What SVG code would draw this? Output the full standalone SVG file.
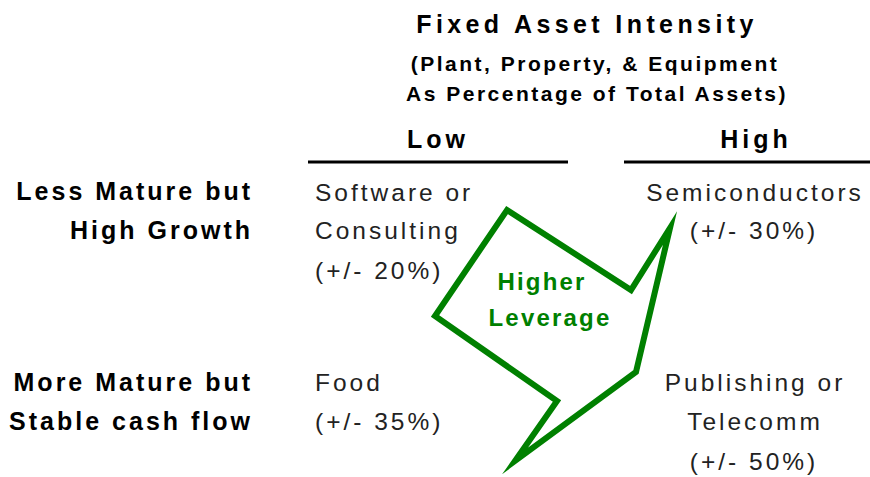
<svg xmlns="http://www.w3.org/2000/svg" width="870" height="477" viewBox="0 0 870 477">
<style>
.b{font-family:"Liberation Sans",Arial,sans-serif;font-weight:bold;fill:#000;font-size:25px;letter-spacing:3px}
.sub{font-family:"Liberation Sans",Arial,sans-serif;font-weight:bold;fill:#000;font-size:21px;letter-spacing:2.5px}
.r{font-family:"Liberation Sans",Arial,sans-serif;fill:#222;font-size:24.5px;letter-spacing:3px}
.g{font-family:"Liberation Sans",Arial,sans-serif;font-weight:bold;fill:#008000;font-size:24px;letter-spacing:2.2px}
.m{text-anchor:middle}
.e{text-anchor:end}
</style>
<rect width="870" height="477" fill="#fff"/>
<g id="header">
<text class="b m" x="587" y="33" style="letter-spacing:4.4px">Fixed Asset Intensity</text>
<text class="sub m" x="595" y="71">(Plant, Property, &amp; Equipment</text>
<text class="sub m" x="597" y="101">As Percentage of Total Assets)</text>
</g>
<g id="col-low">
<text class="b m" x="438" y="148" style="letter-spacing:4px">Low</text>
<line x1="308" y1="162" x2="568" y2="162" stroke="#000" stroke-width="3"/>
</g>
<g id="col-high">
<text class="b m" x="756" y="148" style="letter-spacing:4px">High</text>
<line x1="624" y1="162" x2="870" y2="162" stroke="#000" stroke-width="3"/>
</g>
<g id="row-growth">
<text class="b e" x="253" y="200">Less Mature but</text>
<text class="b e" x="253" y="239">High Growth</text>
</g>
<g id="row-stable">
<text class="b e" x="253" y="391">More Mature but</text>
<text class="b e" x="253" y="430">Stable cash flow</text>
</g>
<g id="software">
<text class="r" x="315" y="201">Software or</text>
<text class="r" x="315" y="239">Consulting</text>
<text class="r" x="315" y="279">(+/- 20%)</text>
</g>
<g id="semiconductors">
<text class="r m" x="755" y="201">Semiconductors</text>
<text class="r m" x="754" y="239">(+/- 30%)</text>
</g>
<g id="food">
<text class="r" x="315" y="391">Food</text>
<text class="r" x="315" y="430">(+/- 35%)</text>
</g>
<g id="publishing">
<text class="r m" x="755" y="391">Publishing or</text>
<text class="r m" x="755" y="430">Telecomm</text>
<text class="r m" x="754" y="470">(+/- 50%)</text>
</g>
<g id="connectors">
<polygon points="507,210 631,290 670,228 636,372 515,461 557,401 435,316" fill="none" stroke="#008000" stroke-width="6" stroke-linejoin="miter" stroke-miterlimit="10"/>
</g>
<g id="leverage">
<text class="g m" x="542" y="290">Higher</text>
<text class="g m" x="550" y="326">Leverage</text>
</g>
</svg>
